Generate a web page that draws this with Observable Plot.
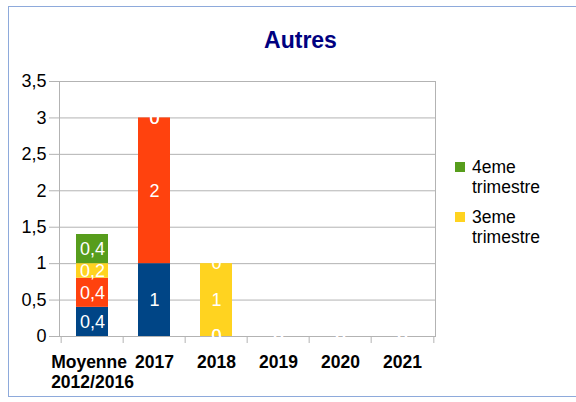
<!DOCTYPE html>
<html>
<head>
<meta charset="utf-8">
<script src="https://cdn.jsdelivr.net/npm/d3@7"></script>
<script src="https://cdn.jsdelivr.net/npm/@observablehq/plot@0.6"></script>
<style>
  html, body { margin: 0; padding: 0; background: #fff; }
  #wrap { position: relative; width: 576px; height: 402px; overflow: hidden; background: #fff; font-family: "Liberation Sans", Arial, sans-serif; }
  #border { position: absolute; left: 8px; top: 6px; width: 620px; height: 391px; border: 1px solid #8eaadb; box-sizing: border-box; }
  #title { position: absolute; left: 0; width: 601px; top: 29px; text-align: center; font-weight: bold; font-size: 23px; line-height: 23px; color: #000080; }
  #chart { position: absolute; left: 0; top: 0; }
  #legend { position: absolute; left: 455px; top: 157px; font-size: 17.5px; line-height: 20px; color: #000; }
  .item { position: relative; padding-left: 17px; margin-bottom: 10px; }
  .sw { position: absolute; left: 0; top: 5px; width: 10px; height: 10px; }
</style>
</head>
<body>
<div id="wrap">
  <div id="border"></div>
  <div id="chart"></div>
  <div id="title"></div>
  <div id="legend"></div>
</div>
<script>
const title = "Autres";
const categories = ["Moyenne\n2012/2016", "2017", "2018", "2019", "2020", "2021"];
const seriesNames = ["1er trimestre", "2eme trimestre", "3eme trimestre", "4eme trimestre"];
const seriesColors = ["#004586", "#ff420e", "#ffd320", "#579d1c"];
const t1 = [0.4, 1, 0, 0, 0, 0];
const t2 = [0.4, 2, 0, 0, 0, 0];
const t3 = [0.2, 0, 1, 0, 0, 0];
const t4 = [0.4, 0, 0, 0, 0, 0];
const yTicks = [0, 0.5, 1, 1.5, 2, 2.5, 3, 3.5];
const legendShown = ["4eme trimestre", "3eme trimestre"];

const seriesValues = [t1, t2, t3, t4];
const data = [];
categories.forEach((c, i) => {
  seriesNames.forEach((s, j) => data.push({cat: c, series: s, value: seriesValues[j][i]}));
});

const fmt = v => String(v).replace(".", ",");

const W = 576, H = 402, mL = 59, mR = 141, mT = 81, mB = 66;
const halfStep = (W - mL - mR) / categories.length / 2;
const grid = "#b3b3b3";
const xFont = 17.5;

// measure multi-line label block width so lines are left-aligned within a centred block
const ctx = document.createElement("canvas").getContext("2d");
ctx.font = `bold ${xFont}px 'Liberation Sans', Arial, sans-serif`;
const singleCats = categories.filter(c => !c.includes("\n"));
const multiCats = categories.filter(c => c.includes("\n"));
const multiWidth = Math.max(0, ...multiCats.flatMap(c => c.split("\n").map(l => ctx.measureText(l).width)));

const chart = Plot.plot({
  width: W, height: H,
  marginLeft: mL, marginRight: mR, marginTop: mT, marginBottom: mB,
  style: {fontFamily: "'Liberation Sans', Arial, sans-serif", background: "transparent", color: "#000"},
  x: {domain: categories, paddingInner: 0.49, paddingOuter: 0.245, axis: null},
  y: {domain: [0, 3.5], axis: null},
  color: {domain: seriesNames, range: seriesColors},
  marks: [
    Plot.ruleY(yTicks, {stroke: grid}),
    Plot.frame({stroke: grid}),
    Plot.axisY({ticks: yTicks, tickSize: 10, tickPadding: 3, tickFormat: fmt, stroke: grid, fill: "#000", fontSize: 18, label: null}),
    Plot.axisX({tickSize: 7, dx: -halfStep, stroke: grid, fill: "none", label: null}),
    Plot.axisX([categories[categories.length - 1]], {tickSize: 7, dx: halfStep, stroke: grid, fill: "none", label: null}),
    Plot.barY(data, {x: "cat", y: "value", fill: "series"}),
    Plot.text(data, Plot.stackY({x: "cat", y: "value", z: "series", text: d => fmt(d.value), fill: "white", fontSize: 18})),
    Plot.text(singleCats, {x: d => d, text: d => d, frameAnchor: "bottom", lineAnchor: "top", dy: 17, fontWeight: "bold", fontSize: xFont, lineHeight: 1.15, fill: "#000"}),
    Plot.text(multiCats, {x: d => d, text: d => d, frameAnchor: "bottom", lineAnchor: "top", textAnchor: "start", dx: -multiWidth / 2, dy: 17, fontWeight: "bold", fontSize: xFont, lineHeight: 1.15, fill: "#000"})
  ]
});
document.getElementById("chart").appendChild(chart);
document.getElementById("title").textContent = title;

const legend = document.getElementById("legend");
legendShown.forEach(name => {
  const item = document.createElement("div");
  item.className = "item";
  const sw = document.createElement("span");
  sw.className = "sw";
  sw.style.background = seriesColors[seriesNames.indexOf(name)];
  item.appendChild(sw);
  const parts = name.split(" ");
  parts.forEach((p, k) => {
    if (k) item.appendChild(document.createElement("br"));
    item.appendChild(document.createTextNode(p));
  });
  legend.appendChild(item);
});
</script>
</body>
</html>
